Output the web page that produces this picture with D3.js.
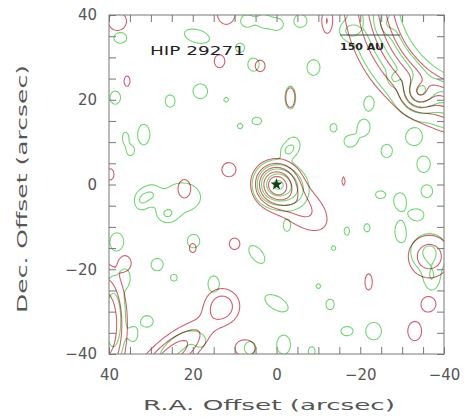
<!DOCTYPE html>
<html>
<head>
<meta charset="utf-8">
<script src="https://cdn.jsdelivr.net/npm/d3@7"></script>
<style>
  body { margin: 0; background: #fff; }
  text { font-family: "DejaVu Sans", sans-serif; }
</style>
</head>
<body>
<div id="chart"></div>
<script>
// Contour levels (same for both maps)
var levels = [1, 2, 3.2, 4.8, 6.5, 8.5];

// Emission components: [RA, Dec, peak, sigmaU, sigmaV, angle]
// (RA/Dec in arcsec, angle measured on the sky image, east to the left)
var redSources = [
  [0, 0, 7, 3, 3, 0],               // HIP 29271 itself
  [-5.4, -4.8, 2.4, 6, 3.2, -40],   // tail to the south-west
  [-50, 45, 44, 12.4, 12.4, 0],     // big source off the NW corner
  [-34, 21.4, 3.5, 2.2, 2.2, 0],
  [41, -33, 5, 3, 8, 0],            // east edge, south
  [25, -40, 4, 7, 2.5, 39],         // arc at the bottom
  [13, -28.7, 2.7, 2.9, 2.9, 0],    // ring
  [-36.5, -17, 2.8, 3.5, 3.5, 0],
  [13.6, 29.1, 1.6, 1.3, 1.6, 0],
  [3.9, 28, 1.6, 1.2, 1.4, 0],
  [-12, 38.6, 1.7, 0.9, 2.2, 0],
  [12, 40.5, 1.8, 2, 2.5, 0],
  [38, 38.5, 1.8, 2, 2, 0],
  [35.7, 24.4, 1.5, 0.8, 1.4, 0],
  [11.4, 3.5, 1.7, 1.6, 1.6, 0],
  [22, -1, 1.8, 1.4, 2, 0],
  [10, -14, 1.6, 1.3, 1.4, 0],
  [20, -15, 1.5, 0.9, 1.2, 0],
  [36, -18.5, 1.6, 1.2, 1.5, 0],
  [-22, -23, 1.6, 0.9, 2, 0],
  [-16, 0.8, 1.4, 0.5, 1.2, 0],
  [-36.3, -28.3, 1.7, 1.7, 1.7, 0],
  [-33, -34.6, 1.7, 1.6, 2.2, 0],
  [7.5, -38.6, 1.8, 2.2, 1.8, 0],
  [39.7, 2.4, 1.5, 1, 1.5, 0],
  [-3.3, 20.5, 1.5, 1.2, 2.6, 0]
];

var greenSources = [
  [0, 0, 6.5, 3, 3, 0],
  [-4.5, -1.5, 1.8, 2.6, 3.2, 0],
  [-50, 45, 36, 12.4, 12.4, 0],
  [-34, 21.4, 4, 2.5, 2.5, 0],
  [39, -32, 3, 2, 7, 0],
  [24, -38, 2, 4, 1.5, 39],
  [-36.5, -16, 2.2, 3.5, 3.5, 0],
  [-3.3, 20.5, 1.6, 1.3, 2.8, 0],
  [22.5, -3, 1.6, 4.5, 3.5, 0],
  [30.1, -2.4, 1.6, 1.6, 1.8, 0],
  [32.5, -3.9, 1.6, 1.3, 1.8, 0],
  [26.2, -7.1, 1.6, 1.8, 1.5, 0],
  [37.3, 34.6, 1.6, 1.6, 1.3, 0],
  [19, 35, 1.7, 3, 1.5, -15],
  [7.1, 38.6, 1.6, 1.5, 1.5, 0],
  [3.1, 38.6, 1.6, 1.4, 1.5, 0],
  [-0.1, 37.8, 1.6, 1.5, 1.4, 0],
  [-5.7, 38.6, 1.6, 1.5, 1.5, 0],
  [-17.6, 36.2, 1.6, 1.6, 1.4, 0],
  [-26.3, 37.8, 1.6, 1.4, 1.6, 0],
  [5.5, 28.3, 1.6, 1.4, 1.6, 0],
  [-8.8, 27.6, 1.6, 1.5, 1.8, 0],
  [8.7, 32.3, 1.5, 1.2, 1.2, 0],
  [18.2, 22, 1.6, 1.8, 1.8, 0],
  [25.4, 19.7, 1.6, 1.2, 1.5, 0],
  [38.5, 20.5, 1.6, 1.3, 1.6, 0],
  [4.7, 15, 1.5, 1.3, 1, 0],
  [8.7, 13.8, 1.4, 0.8, 0.8, 0],
  [-4.1, 9.4, 1.6, 1.5, 1.8, 0],
  [-2.5, 7.9, 1.5, 1.2, 1.2, 0],
  [31.7, 11.8, 1.6, 1.5, 2.5, 0],
  [36.1, 11, 1.5, 0.8, 1.5, 0],
  [34.9, 7.9, 1.5, 0.9, 1.2, 0],
  [-20.8, 13.4, 1.6, 1.4, 1.8, 0],
  [-17.6, 10.2, 1.6, 1.5, 1.4, 0],
  [-26.3, 7.9, 1.6, 1.3, 1.5, 0],
  [-32.7, 11, 1.6, 1.5, 1.5, 0],
  [-35.1, 4.7, 1.6, 1.5, 1.8, 0],
  [-24.8, -2.4, 1.5, 1.3, 1, 0],
  [-29.5, -3.9, 1.6, 1.5, 2, 0],
  [-33.5, -7.1, 1.6, 1.6, 1.3, 0],
  [-29.5, -11, 1.6, 1.2, 2.2, 0],
  [-35.9, -1.6, 1.6, 1.4, 1.5, 0],
  [-21.6, -10.2, 1.4, 0.9, 1.2, 0],
  [-16.8, -11, 1.4, 0.8, 1.2, 0],
  [-13.6, -15, 1.3, 0.8, 0.8, 0],
  [-2.5, -9.8, 1.5, 0.9, 1.4, 0],
  [38.1, -13.4, 1.6, 1.6, 2, 0],
  [19.8, -13.4, 1.6, 1.5, 1.6, 0],
  [4.7, -16.5, 1.6, 2.6, 1.4, -50],
  [28.5, -18.9, 1.6, 1.5, 1.5, 0],
  [15, -23.5, 1.6, 1.4, 2, 0],
  [0, -28, 1.7, 3, 1.5, -30],
  [30.9, -32.3, 1.6, 1.5, 1.4, 0],
  [34.1, -35.4, 1.5, 1, 1.6, 0],
  [-12.8, -28.3, 1.5, 1.1, 1.4, 0],
  [-16.8, -34.6, 1.5, 1.6, 1.2, 0],
  [-23.2, -34.6, 1.7, 1.8, 2, 0],
  [-1.7, -37.8, 1.7, 1.6, 2.2, 0],
  [6.3, -38.6, 1.6, 1.4, 1.6, 0],
  [-8.4, -39.4, 1.4, 1, 1.4, 0],
  [-37.1, -22.5, 1.6, 1.5, 2.3, 0],
  [18.2, -37, 1.5, 1.4, 1.5, 0],
  [-22, 19, 1.4, 1, 1.4, 0],
  [-13.6, 13.4, 1.4, 1, 1.2, 0],
  [36, -22, 1.5, 1, 1.8, 0],
  [24.5, -22, 1.4, 1, 1, 0],
  [-10, -24, 1.3, 0.8, 0.8, 0],
  [12, 20, 1.3, 0.8, 0.8, 0],
  [-28, 25, 1.4, 1, 1.2, 0]
];

// Tick values
var minorTicks = d3.range(-40, 41, 5);
var majorTicks = [-40, -20, 0, 20, 40];

var w = 465, h = 419;
var plotL = 109, plotR = 444, plotT = 15, plotB = 354;

var xScale = d3.scaleLinear().domain([40, -40]).range([plotL, plotR]);
var yScale = d3.scaleLinear().domain([40, -40]).range([plotT, plotB]);

var svg = d3.select("#chart").append("svg")
  .attr("width", w).attr("height", h);

svg.append("clipPath").attr("id", "frame")
  .append("rect")
  .attr("x", plotL).attr("y", plotT)
  .attr("width", plotR - plotL).attr("height", plotB - plotT);

// Grid the model maps
var step = 0.5, edge = 44;
var n = Math.round(2 * edge / step) + 1;

function mapValues(sources) {
  var vals = new Float64Array(n * n);
  for (var j = 0; j < n; j++) {
    var dec = edge - j * step;
    for (var i = 0; i < n; i++) {
      var ra = edge - i * step, v = 0;
      sources.forEach(function(s) {
        var t = s[5] * Math.PI / 180;
        var du = -(ra - s[0]), dv = dec - s[1];
        var a = du * Math.cos(t) + dv * Math.sin(t);
        var b = -du * Math.sin(t) + dv * Math.cos(t);
        v += s[2] * Math.exp(-(a * a / (2 * s[3] * s[3]) + b * b / (2 * s[4] * s[4])));
      });
      vals[j * n + i] = v;
    }
  }
  return vals;
}

var proj = d3.geoTransform({
  point: function(px, py) {
    this.stream.point(xScale(edge - (px - 0.5) * step), yScale(edge - (py - 0.5) * step));
  }
});
var path = d3.geoPath(proj);
var contours = d3.contours().size([n, n]).thresholds(levels);

var plot = svg.append("g").attr("clip-path", "url(#frame)");

plot.append("g")
  .selectAll("path")
  .data(contours(mapValues(greenSources)))
  .enter().append("path")
  .attr("d", path)
  .attr("fill", "none")
  .attr("stroke", "#72d872")
  .attr("stroke-width", 1.1);

plot.append("g")
  .style("mix-blend-mode", "multiply")
  .selectAll("path")
  .data(contours(mapValues(redSources)))
  .enter().append("path")
  .attr("d", path)
  .attr("fill", "none")
  .attr("stroke", "#d3606f")
  .attr("stroke-width", 1.1);

// star marker
plot.append("path")
  .attr("d", d3.symbol().type(d3.symbolStar).size(45)())
  .attr("transform", "translate(" + xScale(0) + "," + yScale(0) + ")")
  .attr("fill", "#1a3a1a");

// Frame and ticks
svg.append("rect")
  .attr("x", plotL).attr("y", plotT)
  .attr("width", plotR - plotL).attr("height", plotB - plotT)
  .attr("fill", "none").attr("stroke", "#777");

function fmt(d) { return majorTicks.indexOf(d) >= 0 ? d3.format("")(d) : ""; }

var axes = [
  d3.axisBottom(xScale).tickFormat(fmt).tickPadding(15),
  d3.axisTop(xScale).tickFormat(""),
  d3.axisLeft(yScale).tickFormat(fmt).tickPadding(12),
  d3.axisRight(yScale).tickFormat("")
];
var shifts = ["0," + plotB, "0," + plotT, plotL + ",0", plotR + ",0"];

axes.forEach(function(ax, k) {
  var g = svg.append("g")
    .attr("transform", "translate(" + shifts[k] + ")")
    .call(ax.tickValues(minorTicks).tickSizeInner(-7).tickSizeOuter(0));
  g.select(".domain").remove();
  g.selectAll("line").attr("stroke", "#777");
  g.selectAll("text").attr("fill", "#555").style("font-size", "15px")
    .style("font-family", "DejaVu Sans, sans-serif");
});

// Axis titles
svg.append("text")
  .attr("x", 143).attr("y", 410)
  .attr("textLength", 252).attr("lengthAdjust", "spacingAndGlyphs")
  .attr("fill", "#555").style("font-size", "14px")
  .text("R.A. Offset (arcsec)");

svg.append("text")
  .attr("transform", "translate(27,313) rotate(-90)")
  .attr("textLength", 248).attr("lengthAdjust", "spacingAndGlyphs")
  .attr("fill", "#555").style("font-size", "14px")
  .text("Dec. Offset (arcsec)");

// Labels inside the map
svg.append("text")
  .attr("x", 150).attr("y", 55)
  .attr("textLength", 95).attr("lengthAdjust", "spacingAndGlyphs")
  .attr("fill", "#222").style("font-size", "13px")
  .text("HIP 29271");

svg.append("line")
  .attr("x1", 340).attr("x2", 400).attr("y1", 35).attr("y2", 35)
  .attr("stroke", "#444").attr("stroke-width", 1);

svg.append("text")
  .attr("x", 340).attr("y", 50)
  .attr("textLength", 44).attr("lengthAdjust", "spacingAndGlyphs")
  .attr("fill", "#222").style("font-size", "9px").style("font-weight", "bold")
  .text("150 AU");
</script>
</body>
</html>
